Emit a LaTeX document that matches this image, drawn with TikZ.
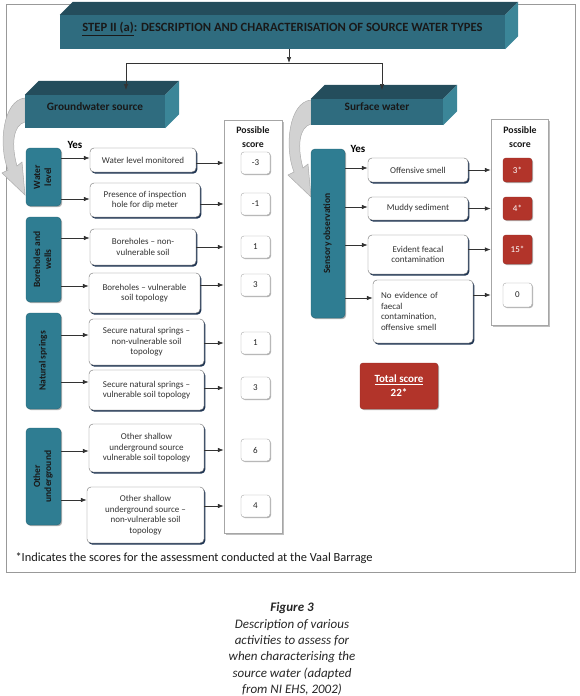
\documentclass[tikz,border=0pt]{standalone}
\usepackage{fontspec}
\setmainfont{Carlito}
\usetikzlibrary{arrows.meta,shadows}
\definecolor{slabfront}{HTML}{2F6C7F}
\definecolor{slabtop}{HTML}{244D5C}
\definecolor{slabside}{HTML}{3B8698}
\definecolor{srcblue}{HTML}{2F7D92}
\definecolor{hitred}{HTML}{B2342A}
\definecolor{optshadow}{HTML}{1F3553}
\newcommand{\vlabel}[1]{\rotatebox{90}{\begin{tabular}{@{}c@{}}#1\end{tabular}}}

\begin{document}
\begin{tikzpicture}[x=1pt,y=-1pt]
\tikzstyle{slab}=[fill=slabfront,inner sep=0pt,text depth=10pt,text=black!90,font=\bfseries\fontsize{11.3}{13}\selectfont]
\tikzstyle{src}=[fill=srcblue,draw=srcblue!80!black,rounded corners=4pt,minimum width=35pt,inner sep=1pt,text=black!90,font=\bfseries\fontsize{9.5}{11}\selectfont,drop shadow={shadow xshift=1.2pt,shadow yshift=-1.2pt,fill=gray!60,opacity=1}]
\tikzstyle{opt}=[draw=black!55,fill=white,rounded corners=4pt,align=center,inner sep=2pt,text=black!80,font=\fontsize{9}{10.6}\selectfont,drop shadow={shadow xshift=1.3pt,shadow yshift=-1.6pt,fill=optshadow,opacity=1}]
\tikzstyle{column}=[draw=gray!70,fill=white,drop shadow={shadow xshift=1.5pt,shadow yshift=-1.5pt,fill=gray!50,opacity=1}]
\tikzstyle{score}=[draw=gray!70,fill=white,rounded corners=3pt,minimum width=29pt,minimum height=22pt,text=black!85,font=\fontsize{9}{10}\selectfont,drop shadow={shadow xshift=1pt,shadow yshift=-1pt,fill=gray!60,opacity=1}]
\tikzstyle{hit}=[score,fill=hitred,draw=hitred!85!black,text=white]
\tikzstyle{head}=[align=center,text=black!90,font=\bfseries\fontsize{9.8}{14}\selectfont]
\tikzstyle{arr}=[draw=black!80,line width=0.7pt,-{Latex[length=6pt,width=4.5pt]}]
\tikzstyle{curl}=[fill=gray!35,draw=gray!65,line width=0.5pt]
\useasboundingbox (0,0) rectangle (580,696);
\draw[gray!80,line width=0.8pt] (6,4.5) rectangle (575,572);

\foreach \sx/\sy in {0/0,286/2}
  \filldraw[curl,shift={(\sx,\sy)}] (25,98) .. controls (3,100) and (-2,145) .. (8,170) -- (2,173) -- (25,195) -- (22,162) -- (17,166) .. controls (11,145) and (13,125) .. (25,122) -- cycle;

\node[slab,minimum width=445pt,minimum height=34pt,font=\bfseries\fontsize{12.6}{14}\selectfont] (title) at (282.5,32) {\underline{STEP II (a)}: DESCRIPTION AND CHARACTERISATION OF SOURCE WATER TYPES};
\node[slab,minimum width=140pt,minimum height=33pt] (gw) at (95,111.5) {Groundwater source};
\node[slab,minimum width=132pt,minimum height=26pt] (sw) at (377,112) {Surface water};
\foreach \b/\d in {title/13,gw/14,sw/14}{
  \fill[slabtop] (\b.north west) -- ++(\d,-\d) -- ([shift={(\d,-\d)}]\b.north east) -- (\b.north east) -- cycle;
  \fill[slabside] (\b.north east) -- ([shift={(\d,-\d)}]\b.north east) -- ([shift={(\d,-\d)}]\b.south east) -- (\b.south east) -- cycle;
}

\coordinate (split) at (289,63);
\coordinate (gwin) at (126,90);
\coordinate (swin) at (382,90);
\draw[arr] (title.south -| split) -- (split);
\draw[arr] (split) -| (gwin);
\draw[arr] (split) -| (swin);

\node[font=\bfseries\fontsize{11}{12}\selectfont] (yes1) at (75,145) {Yes};
\node[font=\bfseries\fontsize{11}{12}\selectfont] (yes2) at (358,149) {Yes};

\node[src,minimum height=58pt] (wl) at (43.5,177) {\vlabel{Water\\level}};
\node[src,minimum height=85pt] (bw) at (43.5,259.5) {\vlabel{Boreholes and\\wells}};
\node[src,minimum height=96pt] (ns) at (43.5,361) {\vlabel{Natural springs}};
\node[src,minimum height=97pt] (ou) at (43.5,476.5) {\vlabel{Other\\underground}};
\node[src,minimum width=34pt,minimum height=169pt] (so) at (328,233.5) {\vlabel{Sensory observation}};

\node[opt,minimum width=106pt,minimum height=24pt] (o1) at (143,160) {Water level monitored};
\node[opt,minimum width=110pt,minimum height=34pt] (o2) at (145,200) {Presence of inspection\\hole for dip meter};
\node[opt,minimum width=106pt,minimum height=36pt] (o3) at (143,247) {Boreholes -- non-\\vulnerable soil};
\node[opt,minimum width=111pt,minimum height=40pt] (o4) at (144.5,293) {Boreholes -- vulnerable\\soil topology};
\node[opt,minimum width=115pt,minimum height=46pt] (o5) at (146.5,342) {Secure natural springs --\\non-vulnerable soil\\topology};
\node[opt,minimum width=115pt,minimum height=40pt] (o6) at (146.5,390) {Secure natural springs --\\vulnerable soil topology};
\node[opt,minimum width=115pt,minimum height=48pt] (o7) at (146.5,448) {Other shallow\\underground source\\vulnerable soil topology};
\node[opt,minimum width=117pt,minimum height=56pt] (o8) at (145.5,515) {Other shallow\\underground source --\\non-vulnerable soil\\topology};

\node[opt,minimum width=100pt,minimum height=24pt] (r1) at (418,170) {Offensive smell};
\node[opt,minimum width=100pt,minimum height=23pt] (r2) at (418,208.5) {Muddy sediment};
\node[opt,minimum width=100pt,minimum height=39pt] (r3) at (418,254.5) {Evident feacal\\contamination};
\node[opt,align=left,text width=84pt,inner xsep=8pt,minimum height=63pt] (r4) at (423,311.5) {No evidence of\\faecal\\contamination,\\offensive smell};

\node[column,minimum width=58pt,minimum height=413pt] (col) at (253,326.5) {};
\node[column,minimum width=57pt,minimum height=206pt] (col2) at (519.5,222) {};
\node[head] (ph1) at (253,137) {Possible\\score};
\node[head] (ph2) at (520,137) {Possible\\score};

\node[score] (s1) at (255.5,163) {-3};
\node[score] (s2) at (255.5,204) {-1};
\node[score] (s3) at (255.5,247) {1};
\node[score] (s4) at (255.5,285) {3};
\node[score] (s5) at (255.5,343) {1};
\node[score] (s6) at (255.5,388) {3};
\node[score] (s7) at (255.5,450) {6};
\node[score] (s8) at (255.5,506) {4};

\node[hit,minimum height=24pt] (t1) at (517.5,170) {3*};
\node[hit,minimum height=23pt] (t2) at (517.5,208.5) {4*};
\node[hit,minimum height=29pt] (t3) at (517.5,249.5) {15*};
\node[score,minimum height=24pt] (t4) at (517.5,295) {0};

\node[hit,minimum width=78pt,minimum height=46pt,align=center,font=\bfseries\fontsize{11}{14}\selectfont] (total) at (399,386) {\underline{Total score}\\22*};

\foreach \s/\o/\dy in {wl/o1/2,wl/o2/1,bw/o3/9,bw/o4/7,ns/o5/7,ns/o6/8,ou/o7/-3,ou/o8/15,so/r1/2,so/r2/1.5,so/r3/9.5,so/r4/13.5}{
  \coordinate (in) at ([yshift=\dy pt]\o.west);
  \draw[arr] (\s.east |- in) -- (in);
}
\foreach \o/\s in {o1/s1,o2/s2,o3/s3,o4/s4,o5/s5,o6/s6,o7/s7,o8/s8}
  \draw[arr] (\o.east |- \s) -- (col.west |- \s);
\foreach \o/\t in {r1/t1,r2/t2,r3/t3,r4/t4}
  \draw[arr] (\o.east |- \t) -- (col2.west |- \t);

\node[anchor=west,text=black!90,font=\fontsize{12.4}{14}\selectfont] (note) at (12,558) {*Indicates the scores for the assessment conducted at the Vaal Barrage};

\node[align=center,text=black!85,font=\itshape\fontsize{13}{16.3}\selectfont] (cap) at (292,649) {{\bfseries Figure 3}\\Description of various\\activities to assess for\\when characterising the\\source water (adapted\\from NI EHS, 2002)};
\end{tikzpicture}
\end{document}
